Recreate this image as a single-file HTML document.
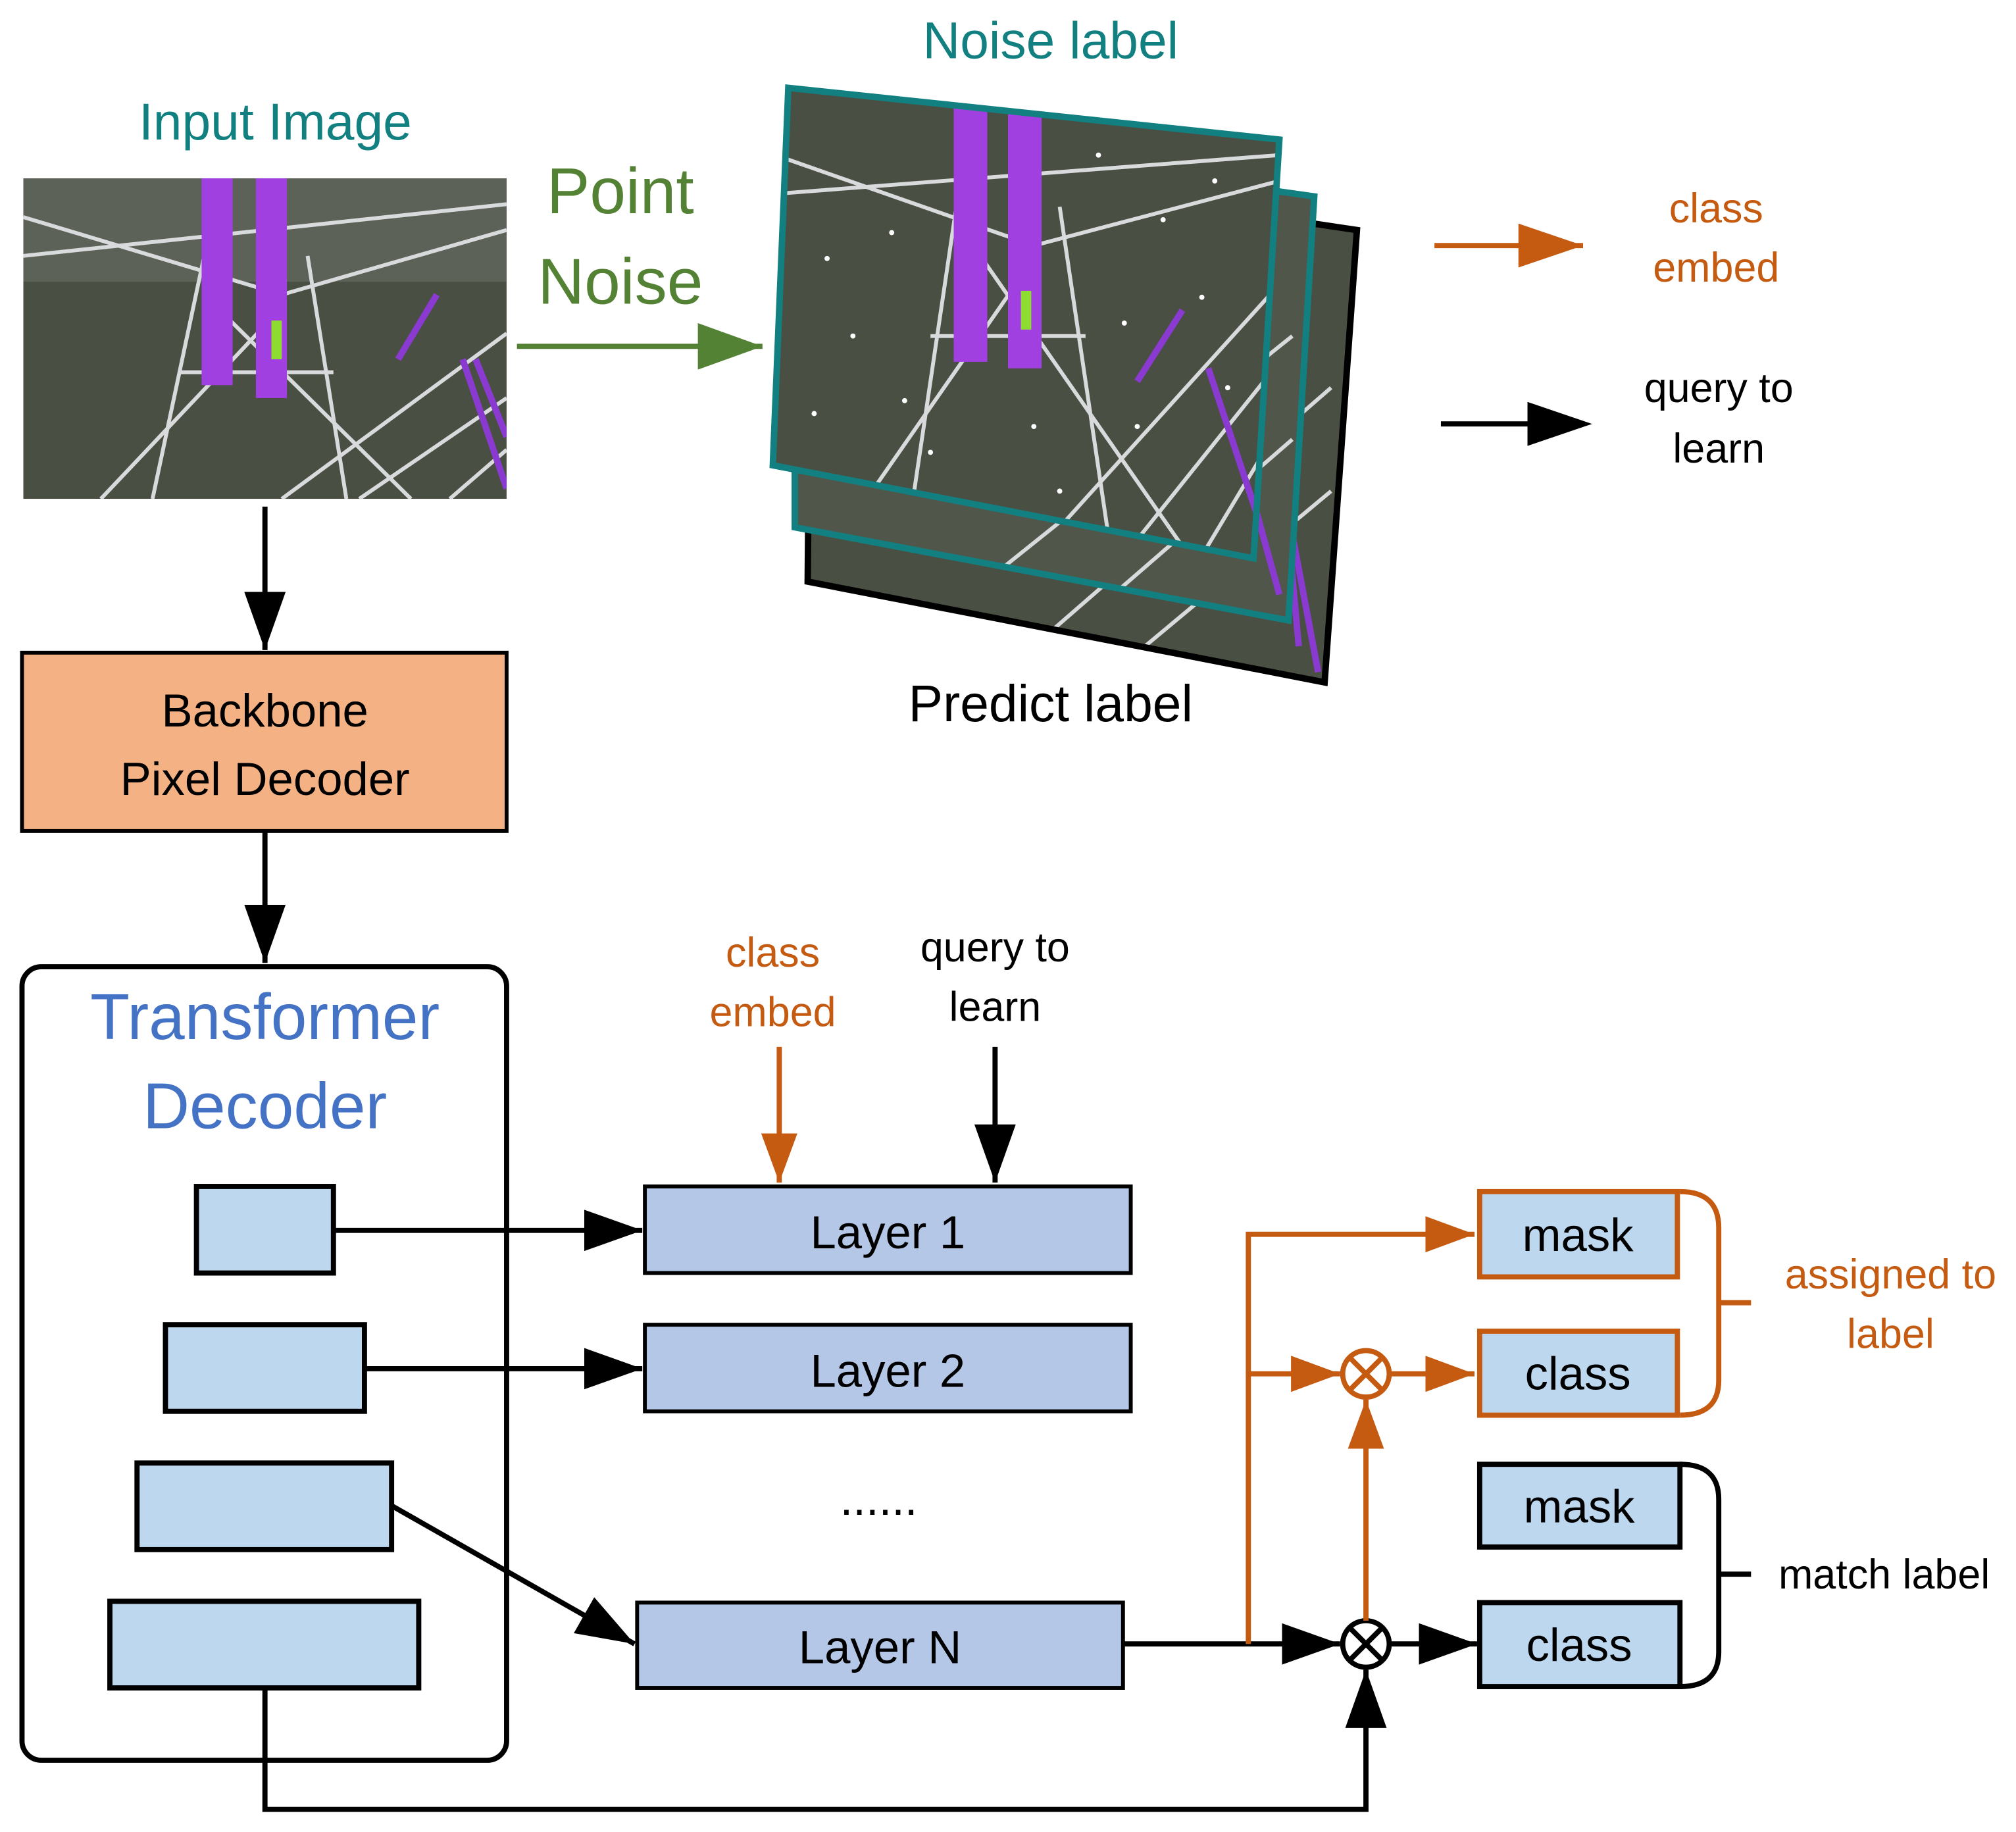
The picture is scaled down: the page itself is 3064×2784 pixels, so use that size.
<!DOCTYPE html>
<html><head><meta charset="utf-8"><style>
html,body{margin:0;padding:0;background:#fff;}
svg{display:block;}
text{font-family:"Liberation Sans",sans-serif;}
</style></head><body>
<svg width="3064" height="2784" viewBox="0 0 1560 1417.5" xmlns="http://www.w3.org/2000/svg">
<defs>
<marker id="ab" markerWidth="45" markerHeight="32" refX="10" refY="5" orient="auto" markerUnits="userSpaceOnUse" viewBox="0 0 10 10" preserveAspectRatio="none"><path d="M0,0 L10,5 L0,10 z" fill="#000"/></marker>
<marker id="ao" markerWidth="38" markerHeight="28" refX="10" refY="5" orient="auto" viewBox="0 0 10 10" markerUnits="userSpaceOnUse" preserveAspectRatio="none"><path d="M0,0 L10,5 L0,10 z" fill="#c55a11"/></marker>
<marker id="ag" markerWidth="50" markerHeight="36" refX="10" refY="5" orient="auto" viewBox="0 0 10 10" markerUnits="userSpaceOnUse" preserveAspectRatio="none"><path d="M0,0 L10,5 L0,10 z" fill="#548235"/></marker>
<g id="photo">
<rect x="0" y="0" width="374" height="248" fill="#4a4f44"/>
<rect x="0" y="0" width="374" height="80" fill="#5d6258"/>
<g stroke="#d8dadc" stroke-width="3" fill="none">
<path d="M0,60 L374,20 M0,30 L200,90 L374,40 M100,248 L140,60 M250,248 L220,60 M120,150 L240,150 M60,248 L200,100 M300,248 L150,100 M200,248 L374,120 M260,248 L374,170 M330,248 L374,210"/>
</g>
<rect x="138" y="0" width="24" height="160" fill="#a040e0"/>
<rect x="180" y="0" width="24" height="170" fill="#a040e0"/>
<rect x="192" y="110" width="8" height="30" fill="#8fdc30"/>
<path d="M290,140 L320,90 M340,140 L374,240 M350,140 L374,200" stroke="#8a3ad0" stroke-width="5"/>
</g>
<clipPath id="cb"><polygon points="628,115 1050,178 1025,528 625,450"/></clipPath>
<clipPath id="cm"><polygon points="615,95 1017,152 997,480 615,408"/></clipPath>
<clipPath id="cf"><polygon points="610,68 990,108 970,432 598,360"/></clipPath>
</defs>

<text x="213" y="108" font-size="40" fill="#128080" text-anchor="middle">Input Image</text>
<svg x="18" y="138" width="374" height="248" viewBox="0 0 374 248"><use href="#photo"/></svg>

<text x="480" y="165" font-size="50" fill="#548235" text-anchor="middle">Point</text>
<text x="480" y="235" font-size="50" fill="#548235" text-anchor="middle">Noise</text>
<line x1="400" y1="268" x2="590" y2="268" stroke="#548235" stroke-width="4" marker-end="url(#ag)"/>

<text x="813" y="45" font-size="40" fill="#128080" text-anchor="middle">Noise label</text>
<polygon points="628,115 1050,178 1025,528 625,450" fill="#4a4f44"/>
<g clip-path="url(#cb)">
<g stroke="#d8dadc" stroke-width="3"><line x1="800" y1="500" x2="1030" y2="300"/><line x1="880" y1="505" x2="1030" y2="380"/></g>
<path d="M975,280 L1020,520 M985,280 L1005,500" stroke="#8a3ad0" stroke-width="5"/>
</g>
<polygon points="628,115 1050,178 1025,528 625,450" fill="none" stroke="#000" stroke-width="5"/>
<polygon points="615,95 1017,152 997,480 615,408" fill="#50564a"/>
<g clip-path="url(#cm)">
<g stroke="#d8dadc" stroke-width="3"><line x1="750" y1="460" x2="1000" y2="260"/><line x1="850" y1="470" x2="1000" y2="340"/></g>
<path d="M940,280 L990,460" stroke="#8a3ad0" stroke-width="5"/>
</g>
<polygon points="615,95 1017,152 997,480 615,408" fill="none" stroke="#128080" stroke-width="5"/>
<g clip-path="url(#cf)">
<rect x="595" y="65" width="400" height="370" fill="#4a4f44"/>
<g stroke="#d8dadc" stroke-width="3" fill="none">
<path d="M600,150 L990,120 M600,120 L800,190 L990,140 M700,430 L740,160 M860,430 L820,160 M720,260 L840,260 M640,430 L800,200 M920,430 L760,200 M800,430 L990,220 M870,430 L990,280 M930,430 L990,330"/>
</g>
<rect x="738" y="80" width="26" height="200" fill="#a040e0"/>
<rect x="780" y="85" width="26" height="200" fill="#a040e0"/>
<rect x="790" y="225" width="8" height="30" fill="#8fdc30"/>
<path d="M880,295 L915,240 M935,285 L980,420" stroke="#8a3ad0" stroke-width="5"/>
<g fill="#fff">
<circle cx="640" cy="200" r="2"/><circle cx="660" cy="260" r="2"/><circle cx="700" cy="310" r="2"/><circle cx="850" cy="120" r="2"/><circle cx="900" cy="170" r="2"/><circle cx="930" cy="230" r="2"/><circle cx="880" cy="330" r="2"/><circle cx="820" cy="380" r="2"/><circle cx="690" cy="180" r="2"/><circle cx="950" cy="300" r="2"/><circle cx="870" cy="250" r="2"/><circle cx="720" cy="350" r="2"/><circle cx="940" cy="140" r="2"/><circle cx="630" cy="320" r="2"/><circle cx="800" cy="330" r="2"/>
</g>
</g>
<polygon points="610,68 990,108 970,432 598,360" fill="none" stroke="#128080" stroke-width="5"/>
<text x="813" y="558" font-size="40" fill="#000" text-anchor="middle">Predict label</text>

<line x1="1110" y1="190" x2="1225" y2="190" stroke="#c55a11" stroke-width="4" marker-end="url(#ag2)"/>
<polygon points="1175,173 1225,190 1175,207" fill="#c55a11"/>
<text x="1328" y="172" font-size="32" fill="#c55a11" text-anchor="middle">class</text>
<text x="1328" y="218" font-size="32" fill="#c55a11" text-anchor="middle">embed</text>
<line x1="1115" y1="328" x2="1190" y2="328" stroke="#000" stroke-width="4"/>
<polygon points="1182,311 1232,328 1182,345" fill="#000"/>
<text x="1330" y="311" font-size="32" fill="#000" text-anchor="middle">query to</text>
<text x="1330" y="358" font-size="32" fill="#000" text-anchor="middle">learn</text>

<line x1="205" y1="392" x2="205" y2="503" stroke="#000" stroke-width="4" marker-end="url(#ab)"/>
<rect x="17" y="505" width="375" height="138" fill="#f4b183" stroke="#000" stroke-width="3"/>
<text x="205" y="562" font-size="36" text-anchor="middle">Backbone</text>
<text x="205" y="615" font-size="36" text-anchor="middle">Pixel Decoder</text>
<line x1="205" y1="643" x2="205" y2="745" stroke="#000" stroke-width="4" marker-end="url(#ab)"/>

<rect x="17" y="748" width="375" height="614" rx="15" fill="none" stroke="#000" stroke-width="4"/>
<text x="205" y="804" font-size="50" fill="#4472c4" text-anchor="middle">Transformer</text>
<text x="205" y="873" font-size="50" fill="#4472c4" text-anchor="middle">Decoder</text>

<g fill="#bdd7ee" stroke="#000" stroke-width="4">
<rect x="152" y="918" width="106" height="67"/>
<rect x="128" y="1025" width="154" height="67"/>
<rect x="106" y="1132" width="197" height="67"/>
<rect x="85" y="1239" width="239" height="67"/>
</g>
<g fill="#b4c7e7" stroke="#000" stroke-width="3">
<rect x="499" y="918" width="376" height="67"/>
<rect x="499" y="1025" width="376" height="67"/>
<rect x="493" y="1240" width="376" height="66"/>
</g>
<text x="687" y="966" font-size="36" text-anchor="middle">Layer 1</text>
<text x="687" y="1073" font-size="36" text-anchor="middle">Layer 2</text>
<text x="681" y="1287" font-size="36" text-anchor="middle">Layer N</text>
<text x="680" y="1172" font-size="36" text-anchor="middle">......</text>

<g stroke="#000" stroke-width="4" fill="none">
<line x1="258" y1="952" x2="497" y2="952" marker-end="url(#ab)"/>
<line x1="282" y1="1059" x2="497" y2="1059" marker-end="url(#ab)"/>
<line x1="303" y1="1165" x2="491" y2="1272" marker-end="url(#ab)"/>
<line x1="770" y1="810" x2="770" y2="915" marker-end="url(#ab)"/>
<line x1="869" y1="1272" x2="1037" y2="1272" marker-end="url(#ab)"/>
<polyline points="205,1306 205,1400 1057,1400 1057,1292" marker-end="url(#ab)"/>
<line x1="1075" y1="1272" x2="1143" y2="1272" marker-end="url(#ab)"/>
<circle cx="1057" cy="1272" r="18" fill="#fff"/>
<path d="M1044,1259 L1070,1285 M1070,1259 L1044,1285"/>
</g>
<text x="598" y="748" font-size="32" fill="#c55a11" text-anchor="middle">class</text>
<text x="598" y="794" font-size="32" fill="#c55a11" text-anchor="middle">embed</text>
<text x="770" y="744" font-size="32" text-anchor="middle">query to</text>
<text x="770" y="790" font-size="32" text-anchor="middle">learn</text>

<g stroke="#c55a11" stroke-width="4" fill="none">
<line x1="603" y1="810" x2="603" y2="915" marker-end="url(#ao)"/>
<polyline points="966,1272 966,955 1141,955" marker-end="url(#ao)"/>
<line x1="966" y1="1063" x2="1037" y2="1063" marker-end="url(#ao)"/>
<line x1="1075" y1="1063" x2="1141" y2="1063" marker-end="url(#ao)"/>
<line x1="1057" y1="1254" x2="1057" y2="1083" marker-end="url(#ao)"/>
<circle cx="1057" cy="1063" r="18" fill="#fff"/>
<path d="M1044,1050 L1070,1076 M1070,1050 L1044,1076"/>
</g>

<g fill="#bdd7ee" stroke-width="4">
<rect x="1145" y="922" width="153" height="66" stroke="#c55a11"/>
<rect x="1145" y="1030" width="153" height="65" stroke="#c55a11"/>
<rect x="1145" y="1133" width="155" height="64" stroke="#000"/>
<rect x="1145" y="1240" width="155" height="65" stroke="#000"/>
</g>
<text x="1221" y="968" font-size="36" text-anchor="middle">mask</text>
<text x="1221" y="1075" font-size="36" text-anchor="middle">class</text>
<text x="1222" y="1178" font-size="36" text-anchor="middle">mask</text>
<text x="1222" y="1285" font-size="36" text-anchor="middle">class</text>

<path d="M1300,922 Q1330,922 1330,950 L1330,1068 Q1330,1095 1300,1095 M1330,1008 L1355,1008" stroke="#c55a11" stroke-width="4" fill="none"/>
<text x="1463" y="997" font-size="32" fill="#c55a11" text-anchor="middle">assigned to</text>
<text x="1463" y="1043" font-size="32" fill="#c55a11" text-anchor="middle">label</text>
<path d="M1300,1133 Q1330,1133 1330,1160 L1330,1278 Q1330,1305 1300,1305 M1330,1218 L1355,1218" stroke="#000" stroke-width="4" fill="none"/>
<text x="1458" y="1229" font-size="32" text-anchor="middle">match label</text>
</svg>
</body></html>
